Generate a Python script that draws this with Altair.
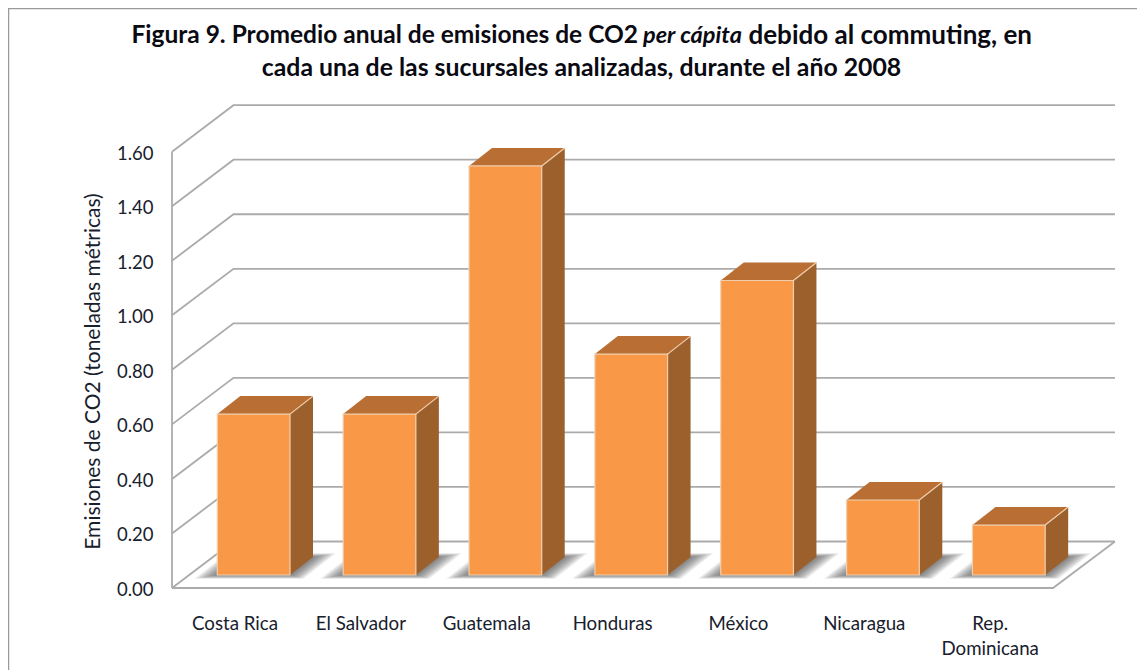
import altair as alt
import pandas as pd

categories = ["Costa Rica", "El Salvador", "Guatemala", "Honduras", "México", "Nicaragua", "Rep.\nDominicana"]
values = [0.59, 0.59, 1.50, 0.81, 1.08, 0.275, 0.183]
ticks = [0.0, 0.2, 0.4, 0.6, 0.8, 1.0, 1.2, 1.4, 1.6]

W, H = 943, 483
STEP = 125.86          # px per category
UNIT = 272.7           # px per y unit
WALL_X, WALL_Y = 61.5 / STEP, 46.5 / UNIT
FLOOR_X = 7.0
BAR_L, BAR_W = 45.3 / STEP, 72.7 / STEP
DX, DY = 23 / STEP, 18 / UNIT
BASE = 13 / UNIT
FONT = "Lato"
INK = "#17202c"

xs = alt.Scale(domain=[0, W / STEP], range=[0, W], nice=False, zero=False)
ys = alt.Scale(domain=[0, H / UNIT], range=[H, 0], nice=False, zero=False)
AXIS = alt.Axis(
    values=ticks, format=".2f", domain=False, ticks=False, grid=False,
    labelFont=FONT, labelFontSize=18.5, labelColor=INK, labelPadding=19, labelOffset=1.5,
    title="Emisiones de CO2 (toneladas  métricas)", titleFont=FONT, titleFontSize=21,
    titleFontWeight="normal", titleColor=INK, titleX=-79, titleY=266, titleAngle=-90,
    titleAlign="center", titleBaseline="middle")
X = lambda f="x": alt.X(f"{f}:Q", scale=xs, axis=None)
Y = lambda f="y": alt.Y(f"{f}:Q", scale=ys, axis=AXIS)

# Walls and floor
wall_rows = []
for t in ticks:
    for i, (x, y) in enumerate([(0, t), (WALL_X, t + WALL_Y), (W / STEP, t + WALL_Y)]):
        wall_rows.append({"g": f"t{t}", "o": i, "x": x, "y": y})
for i, (x, y) in enumerate([(0, 0), (FLOOR_X, 0), (W / STEP, WALL_Y)]):
    wall_rows.append({"g": "floor", "o": i, "x": x, "y": y})
for i, (x, y) in enumerate([(0, 0), (0, 1.6)]):
    wall_rows.append({"g": "side", "o": i, "x": x, "y": y})
walls = alt.Chart(pd.DataFrame(wall_rows)).mark_line(color="#ababab", strokeWidth=1.8).encode(
    x=X(), y=Y(), detail="g:N", order="o:Q")

# Bar geometry
top_rows, side_rows, front_rows, edge_rows, shadow_rows = [], [], [], [], []
for i, v in enumerate(values):
    l, r = i + BAR_L, i + BAR_L + BAR_W
    b, t = BASE, BASE + v
    front_rows.append({"x": l, "x2": r, "y": b, "y2": t})
    top_rows += [{"g": i, "y": t, "x": l, "x2": r}, {"g": i, "y": t + DY, "x": l + DX, "x2": r + DX}]
    side_rows += [{"g": i, "x": r, "y": b, "y2": t}, {"g": i, "x": r + DX, "y": b + DY, "y2": t + DY}]
    edge_rows.append({"x": r, "x2": r + DX, "y": t, "y2": t + DY})
    for lvl, e in enumerate([1, 3, 5, 7, 9, 11, 13, 15, 17]):
        ex = e / STEP
        ey = (e * 0.22) / UNIT
        y0 = b - ey
        y1 = b + DY + ey
        shift = (y1 - y0) * (DX / DY)
        x0 = l - 1 / STEP - ex - ey * (DX / DY)
        x1 = r + 1 / STEP + ex - ey * (DX / DY)
        shadow_rows += [{"g": f"{i}-{lvl}", "y": y0, "x": x0, "x2": x1},
                        {"g": f"{i}-{lvl}", "y": y1, "x": x0 + shift, "x2": x1 + shift}]

shadow = alt.Chart(pd.DataFrame(shadow_rows)).mark_area(
    orient="horizontal", color="#444444", opacity=0.1).encode(
    y=Y(), x=X(), x2="x2:Q", detail="g:N")
side = alt.Chart(pd.DataFrame(side_rows)).mark_area(color="#9c602c").encode(
    x=X(), y=Y(), y2="y2:Q", detail="g:N")
top = alt.Chart(pd.DataFrame(top_rows)).mark_area(orient="horizontal", color="#b96f33").encode(
    y=Y(), x=X(), x2="x2:Q", detail="g:N")
front = alt.Chart(pd.DataFrame(front_rows)).mark_rect(
    color="#f99847", stroke="#f0cfb0", strokeWidth=1.2).encode(
    x=X(), x2="x2:Q", y=Y(), y2="y2:Q")
edge = alt.Chart(pd.DataFrame(edge_rows)).mark_rule(color="#f0cfb0", strokeWidth=1.2).encode(
    x=X(), x2="x2:Q", y=Y(), y2="y2:Q")

# Category labels
label_df = pd.DataFrame({"x": [i + 63 / STEP for i in range(len(categories))], "label": categories})
labels = alt.Chart(label_df).mark_text(
    font=FONT, fontSize=18.7, color=INK, baseline="middle", lineBreak="\n", lineHeight=25
).encode(x=X(), y=alt.value(518.5), text="label:N")

# Title pieces (normal / italic runs on the first line)
def title_text(text, x, y, align="left", style="normal", size=24.8):
    return alt.Chart(pd.DataFrame({"t": [text]})).mark_text(
        font=FONT, fontSize=size, fontWeight="bold", fontStyle=style, color="#0a0a12",
        align=align, baseline="middle"
    ).encode(x=alt.value(x), y=alt.value(y), text="t:N")

title1 = title_text("Figura 9. Promedio anual de emisiones de CO2", 466, -69.5, align="right", size=24.5)
title2 = title_text("per cápita", 471, -69.5, style="italic", size=23.5)
title3 = title_text("debido al commuting, en", 860, -69.5, align="right", size=26)
title4 = title_text("cada una de las sucursales analizadas, durante el año 2008", 409.5, -36.5, align="center")

# Outer frame, running off the picture to the right and below
frame_l = alt.Chart(pd.DataFrame({"a": [0]})).mark_rule(color="#9a9a9a", strokeWidth=1.5).encode(
    x=alt.value(-163.5), y=alt.value(-96.5), y2=alt.value(H + 82))
frame_t = alt.Chart(pd.DataFrame({"a": [0]})).mark_rule(color="#9a9a9a", strokeWidth=1.5).encode(
    x=alt.value(-164), x2=alt.value(W + 22), y=alt.value(-96.5))

chart = alt.layer(
    frame_l, frame_t, walls, shadow, side, top, front, edge, labels, title1, title2, title3, title4
).properties(
    width=W, height=H,
    padding={"left": 164, "top": 97, "right": 22, "bottom": 82},
    autosize=alt.AutoSizeParams(type="none"),
    background="white",
).configure_view(stroke=None)

chart.save("out.html", embed_options={"renderer": "svg", "actions": False})
